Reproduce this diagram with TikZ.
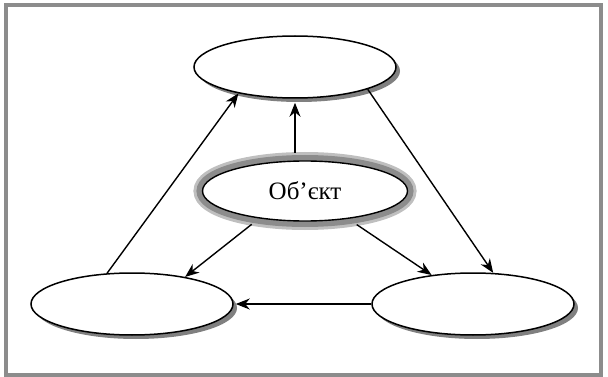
\documentclass[tikz,border=0pt]{standalone}
\usepackage{fontspec}
\setmainfont{Liberation Serif}
\usetikzlibrary{shapes.geometric,arrows.meta,shadows}
\begin{document}
\begin{tikzpicture}[x=1pt,y=1pt,
  oval/.style={ellipse, draw=black, line width=1.5pt, fill=white,
    minimum width=202pt, minimum height=62pt, inner sep=0pt,
    drop shadow={shadow xshift=4pt, shadow yshift=-4pt, fill=black!50, opacity=1}},
  core/.style={ellipse, draw=black, line width=1.4pt, fill=white,
    minimum width=205pt, minimum height=60pt, inner sep=0pt, outer sep=8pt,
    preaction={draw=black!25, line width=18pt},
    preaction={draw=black!45, line width=12pt}},
  arr/.style={line width=1.4pt, -{Stealth[length=14pt, width=11pt, inset=4.5pt]}}]
  \useasboundingbox (0,0) rectangle (608,-377);
  % frame
  \draw[line width=4pt, draw=black!45] (6,-5) rectangle (601,-375);

  % nodes
  \node[oval] (T) at (295,-67) {};
  \node[oval] (L) at (132,-304) {};
  \node[oval] (R) at (473,-304) {};
  \node[core] (C) at (305,-191) {\fontsize{25}{30}\selectfont Об’єкт};

  % connectors
  \draw[arr] (L.129) -- (T.205);
  \draw[arr] (T.south |- C.north) -- ([yshift=-4pt]T.south);
  \draw[arr] (T.-17) -- (R.57);
  \draw[arr] (C.212) -- (L.27);
  \draw[arr] (C.-33) -- (R.145);
  \draw[arr] (R.west) -- ([xshift=2pt]L.east);
\end{tikzpicture}
\end{document}
